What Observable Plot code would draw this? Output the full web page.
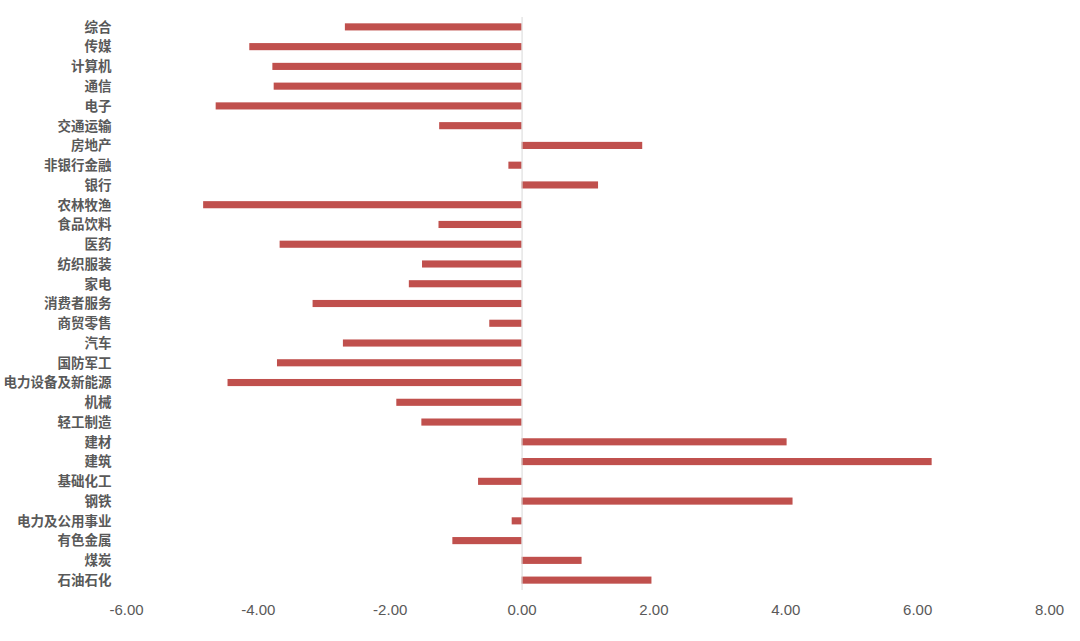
<!DOCTYPE html>
<html>
<head>
<meta charset="utf-8">
<script src="https://cdn.jsdelivr.net/npm/d3@7"></script>
<script src="https://cdn.jsdelivr.net/npm/@observablehq/plot@0.6"></script>
<style>
  html, body { margin: 0; padding: 0; background: #ffffff; }
  #chart svg { display: block; }
</style>
</head>
<body>
<div id="chart"></div>
<script>
const categories = ["综合","传媒","计算机","通信","电子","交通运输","房地产","非银行金融","银行","农林牧渔","食品饮料","医药","纺织服装","家电","消费者服务","商贸零售","汽车","国防军工","电力设备及新能源","机械","轻工制造","建材","建筑","基础化工","钢铁","电力及公用事业","有色金属","煤炭","石油石化"];
const values = [-2.68,-4.13,-3.78,-3.76,-4.64,-1.25,1.83,-0.20,1.16,-4.83,-1.26,-3.67,-1.51,-1.71,-3.17,-0.49,-2.71,-3.71,-4.46,-1.90,-1.52,4.02,6.22,-0.66,4.11,-0.15,-1.05,0.91,1.97];
const xTicks = [-6,-4,-2,0,2,4,6,8];

const data = categories.map((c, i) => ({category: c, value: values[i]}));

const chart = Plot.plot({
  width: 1080,
  height: 641,
  marginTop: 17,
  marginBottom: 51,
  marginLeft: 126,
  marginRight: 31,
  style: {fontFamily: "'Noto Sans CJK SC', 'Noto Sans', sans-serif", background: "#ffffff"},
  x: {domain: [-6, 8], ticks: xTicks},
  y: {domain: categories, paddingInner: 0.64, paddingOuter: 0.32, round: false},
  marks: [
    Plot.barX(data, {x: "value", y: "category", fill: "#C0504D"}),
    Plot.ruleX([0], {stroke: "#d9d9d9", strokeWidth: 1}),
    Plot.axisX({ticks: xTicks, tickSize: 0, tickPadding: 14, tickFormat: d => d.toFixed(2), fontSize: 15, fill: "#595959", fontFamily: "'Liberation Sans Narrow', 'Liberation Sans', sans-serif", label: null}),
    Plot.axisY({tickSize: 0, tickPadding: 15, fontSize: 13.5, fontWeight: "bold", fill: "#595959", label: null})
  ]
});
document.getElementById("chart").appendChild(chart);
</script>
</body>
</html>
